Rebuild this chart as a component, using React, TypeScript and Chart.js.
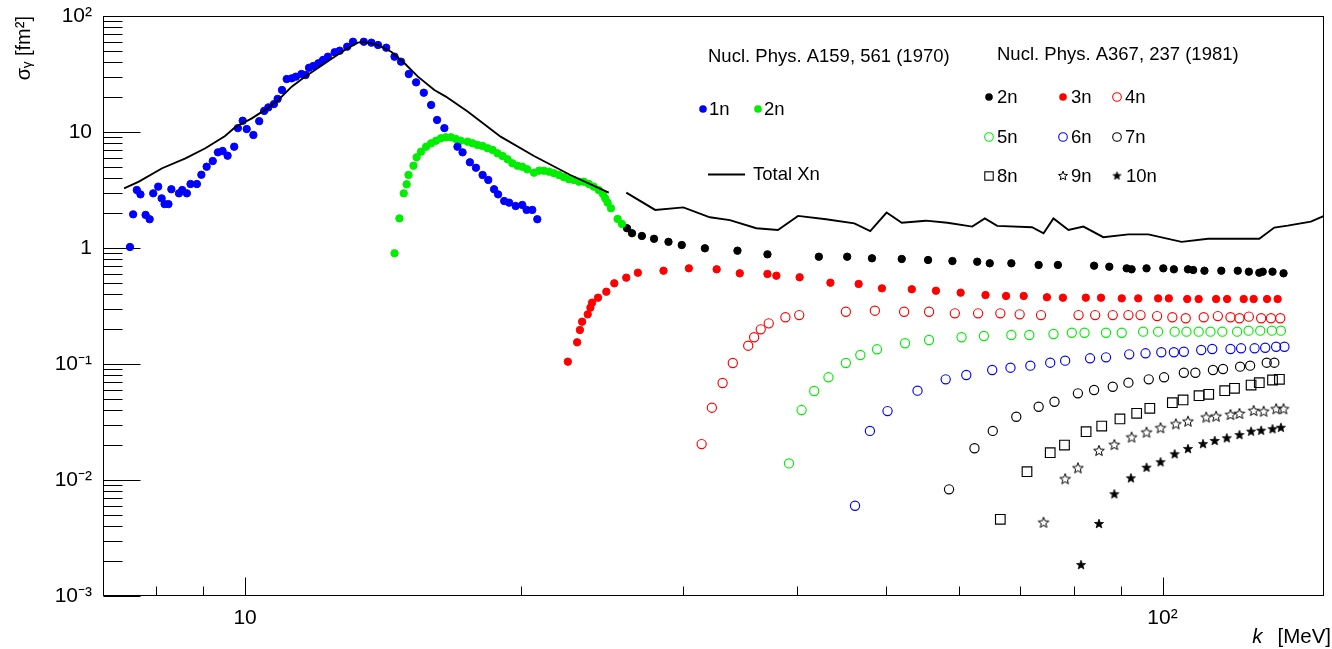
import React, { useEffect, useRef } from 'react';
import { Chart, registerables } from 'chart.js';

Chart.register(...registerables);

const FONT = "'Liberation Sans', Arial, Helvetica, sans-serif";

// ---- Nucl. Phys. A159, 561 (1970) ----
const n1Energy = [7.49, 7.55, 7.62, 7.69, 7.79, 7.87, 7.94, 8.04, 8.11, 8.17, 8.25, 8.31, 8.47, 8.54, 8.64, 8.72, 8.86, 8.96, 9.08, 9.22, 9.34, 9.45, 9.57, 9.73, 9.82, 9.94, 10.04, 10.21, 10.36, 10.49, 10.6, 10.75, 10.85, 10.97, 11.1, 11.24, 11.36, 11.52, 11.64, 11.74, 11.87, 12.02, 12.16, 12.31, 12.52, 12.68, 12.92, 13.11, 13.47, 13.73, 13.96, 14.25, 14.55, 14.79, 15.08, 15.36, 15.66, 15.95, 16.19, 16.49, 17.04, 17.26, 17.58, 17.85, 18.15, 18.41, 18.68, 18.87, 19.16, 19.4, 19.72, 20.05, 20.27, 20.56, 20.82];
const n1Sigma = [1.02, 1.95, 3.16, 2.9, 1.93, 1.77, 2.96, 3.38, 2.68, 2.39, 2.39, 3.21, 2.96, 3.16, 2.96, 3.56, 3.56, 4.28, 5.02, 5.62, 6.68, 6.86, 6.25, 7.47, 10.8, 12.5, 10.6, 9.42, 12.4, 15.2, 16.3, 17.4, 19.3, 23.0, 28.6, 29.0, 30.0, 31.6, 31.0, 35.8, 37.1, 39.1, 41.8, 44.6, 48.7, 50.2, 54.4, 60.0, 60.0, 58.9, 56.2, 53.3, 44.6, 40.4, 31.6, 26.8, 21.8, 17.1, 12.7, 10.8, 7.47, 6.68, 5.48, 4.92, 4.26, 3.86, 3.21, 2.9, 2.54, 2.46, 2.3, 2.35, 2.13, 2.13, 1.77];

const n2oldEnergy = [14.55, 14.73, 14.89, 15.0, 15.07, 15.26, 15.38, 15.55, 15.75, 15.95, 16.15, 16.35, 16.55, 16.76, 16.97, 17.18, 17.48, 17.7, 17.92, 18.15, 18.38, 18.61, 18.84, 19.08, 19.32, 19.56, 19.81, 20.05, 20.3, 20.65, 20.91, 21.17, 21.44, 21.71, 21.98, 22.26, 22.54, 22.82, 23.11, 23.4, 23.7, 23.99, 24.29, 24.55, 24.69, 24.84, 25.05, 25.47, 25.75];
const n2oldSigma = [0.9, 1.8, 2.96, 3.54, 4.26, 5.12, 6.05, 6.77, 7.47, 7.99, 8.41, 8.83, 9.0, 9.0, 8.71, 8.41, 8.25, 7.99, 7.73, 7.57, 7.24, 7.0, 6.55, 6.21, 5.82, 5.37, 5.12, 5.02, 4.77, 4.46, 4.64, 4.64, 4.55, 4.41, 4.26, 4.07, 3.91, 3.86, 3.73, 3.73, 3.56, 3.38, 3.16, 2.92, 2.68, 2.46, 2.2, 1.78, 1.61];

const totalLowEnergy = [7.38, 7.66, 8.12, 8.61, 9.05, 9.51, 9.75, 10.17, 10.51, 10.87, 11.24, 11.62, 12.22, 12.84, 13.27, 13.47, 13.96, 14.43, 14.92, 15.43, 16.08, 16.55, 17.48, 18.99, 20.65, 22.62, 24.91];
const totalLowSigma = [3.27, 3.73, 4.87, 5.93, 7.24, 9.24, 11.0, 13.1, 15.5, 18.9, 24.6, 30.0, 39.1, 50.9, 58.9, 60.0, 56.2, 49.2, 39.1, 30.0, 23.0, 20.2, 15.0, 9.11, 6.21, 4.26, 3.0];
const totalHighEnergy = [26.03, 27.99, 30.04, 32.11, 33.76, 36.08, 38.09, 40.06, 42.98, 46.14, 48.02, 50.03, 51.97, 55.2, 58.29, 62.03, 64.02, 66.04, 72.07, 74.19, 76.06, 78.97, 82.0, 86.2, 91.8, 96.5, 104.9, 112.1, 127.5, 132.4, 136.9, 145.1, 150];
const totalHighSigma = [3.0, 2.13, 2.24, 1.84, 1.74, 1.48, 1.43, 1.89, 1.77, 1.63, 1.4, 2.02, 1.65, 1.72, 1.65, 1.53, 1.8, 1.55, 1.51, 1.34, 1.8, 1.43, 1.53, 1.24, 1.31, 1.31, 1.13, 1.2, 1.2, 1.5, 1.56, 1.69, 1.89];

// ---- Nucl. Phys. A367, 237 (1981) ----
const n2Energy = [26.08, 26.41, 27.07, 27.91, 28.94, 29.92, 31.71, 34.41, 37.1, 42.21, 45.32, 48.23, 51.97, 55.52, 59.02, 62.81, 64.82, 68.43, 73.28, 76.91, 84.22, 87.5, 91.4, 92.54, 96.07, 100.2, 102.9, 106.6, 108.0, 111.1, 115.9, 120.8, 124.2, 127.5, 128.6, 131.8, 135.5];
const n2Sigma = [1.48, 1.34, 1.27, 1.2, 1.13, 1.06, 0.994, 0.948, 0.882, 0.841, 0.841, 0.815, 0.804, 0.788, 0.772, 0.762, 0.738, 0.738, 0.714, 0.714, 0.704, 0.69, 0.668, 0.655, 0.668, 0.668, 0.655, 0.655, 0.646, 0.637, 0.637, 0.637, 0.625, 0.612, 0.625, 0.625, 0.605];

const n3Energy = [22.48, 23.01, 23.17, 23.3, 23.63, 23.79, 23.89, 24.25, 24.76, 25.26, 26.03, 26.8, 28.58, 30.46, 32.66, 34.61, 37.1, 37.94, 40.22, 43.45, 46.64, 49.45, 53.3, 56.63, 60.25, 64.13, 67.53, 70.58, 74.82, 77.88, 82.49, 85.7, 90.28, 94.08, 98.9, 101.6, 106.4, 109.5, 114.4, 117.6, 122.6, 125.7, 130.0, 133.5];
const n3Sigma = [0.1047, 0.1538, 0.1965, 0.2315, 0.268, 0.306, 0.338, 0.373, 0.42, 0.496, 0.555, 0.612, 0.637, 0.668, 0.655, 0.605, 0.597, 0.577, 0.559, 0.502, 0.49, 0.449, 0.441, 0.428, 0.412, 0.393, 0.386, 0.386, 0.376, 0.373, 0.373, 0.373, 0.368, 0.368, 0.368, 0.368, 0.363, 0.363, 0.363, 0.363, 0.363, 0.363, 0.363, 0.363];

const n4Energy = [31.45, 32.27, 33.15, 34.01, 35.35, 35.88, 36.48, 37.22, 38.81, 40.18, 45.17, 48.58, 52.28, 55.66, 59.38, 62.95, 66.56, 69.87, 73.72, 81.0, 84.45, 88.26, 91.8, 94.64, 98.65, 102.5, 106.0, 110.9, 114.9, 118.6, 121.3, 124.2, 128.1, 131.3, 134.4];
const n4Sigma = [0.0204, 0.042, 0.0686, 0.102, 0.1438, 0.17, 0.199, 0.224, 0.253, 0.264, 0.282, 0.288, 0.282, 0.282, 0.2735, 0.2735, 0.2735, 0.268, 0.264, 0.264, 0.264, 0.264, 0.264, 0.264, 0.259, 0.253, 0.248, 0.253, 0.259, 0.253, 0.248, 0.256, 0.248, 0.248, 0.248];

const n5Energy = [39.16, 40.42, 41.72, 43.24, 45.17, 46.84, 48.84, 52.4, 55.66, 60.39, 63.87, 68.43, 71.58, 76.06, 79.64, 82.22, 86.78, 90.28, 95.26, 98.9, 103.1, 106.2, 109.5, 112.8, 116.2, 120.6, 124.1, 127.8, 131.6, 134.6];
const n5Sigma = [0.0139, 0.0401, 0.0585, 0.0768, 0.102, 0.1196, 0.1339, 0.1509, 0.161, 0.17, 0.1743, 0.1778, 0.1778, 0.1814, 0.186, 0.186, 0.186, 0.186, 0.19, 0.19, 0.19, 0.19, 0.19, 0.19, 0.19, 0.19, 0.1937, 0.1937, 0.1937, 0.1937];

const n6Energy = [46.22, 47.98, 50.15, 54.07, 58.03, 61.11, 65.22, 68.28, 71.77, 75.44, 78.32, 83.37, 86.78, 91.99, 95.83, 99.7, 102.9, 105.5, 110.2, 113.3, 118.6, 121.8, 126.0, 129.4, 133.0, 135.8];
const n6Sigma = [0.006, 0.0265, 0.0393, 0.0589, 0.0738, 0.0804, 0.0888, 0.0929, 0.0967, 0.1026, 0.1068, 0.112, 0.1142, 0.1212, 0.1237, 0.1262, 0.1262, 0.1276, 0.132, 0.1347, 0.1347, 0.1366, 0.1366, 0.1381, 0.1409, 0.1409];

const n7Energy = [58.52, 62.38, 65.31, 69.28, 73.28, 76.25, 80.87, 84.22, 88.26, 91.8, 96.6, 100.4, 105.5, 108.6, 113.5, 116.4, 121.5, 124.6, 129.9, 132.4];
const n7Sigma = [0.00831, 0.01877, 0.0265, 0.0351, 0.0428, 0.0473, 0.0559, 0.0597, 0.0637, 0.069, 0.0738, 0.0768, 0.0841, 0.0841, 0.0888, 0.0906, 0.0948, 0.0967, 0.1026, 0.1026];

const n8Energy = [66.56, 71.17, 75.44, 78.19, 82.55, 85.85, 89.87, 93.72, 96.87, 102.5, 105.3, 109.6, 112.3, 116.9, 119.8, 124.9, 127.5, 131.8, 134.1];
const n8Sigma = [0.00458, 0.0118, 0.0172, 0.02, 0.0261, 0.0292, 0.0336, 0.0376, 0.0415, 0.0464, 0.049, 0.0533, 0.0548, 0.0589, 0.0617, 0.0659, 0.069, 0.0728, 0.0738];

const n9Energy = [74.19, 78.32, 80.87, 85.26, 88.62, 92.54, 96.07, 99.5, 103.4, 106.6, 111.6, 114.4, 118.6, 121.3, 125.7, 128.9, 133.0, 135.5];
const n9Sigma = [0.00428, 0.01014, 0.0126, 0.01778, 0.02, 0.0232, 0.0256, 0.0279, 0.0302, 0.0318, 0.0345, 0.0351, 0.0363, 0.0371, 0.0393, 0.0388, 0.0407, 0.0407];

const n10Energy = [81.5, 85.26, 88.62, 92.38, 96.07, 99.5, 103.1, 106.6, 110.7, 114.0, 117.5, 121.3, 124.9, 128.1, 131.8, 134.6];
const n10Sigma = [0.00185, 0.00418, 0.00753, 0.01034, 0.01276, 0.01421, 0.01666, 0.0185, 0.0204, 0.0217, 0.0229, 0.0244, 0.0261, 0.0266, 0.0274, 0.0282];

// ---- axes ----
const xMin = 7;
const xMax = 150;
const yMin = 0.001;
const yMax = 100;
const xTickValues = [10, 100];
const xTickLabels = ['10', '10²'];
const xMinorTicks = [8, 9, 20, 30, 40, 50, 60, 70, 80, 90];
const yTickValues = [0.001, 0.01, 0.1, 1, 10, 100];
const yTickLabels = ['10⁻³', '10⁻²', '10⁻¹', '1', '10', '10²'];
const yMinorMantissas = [2, 3, 4, 5, 6, 7, 8, 9];
const yTitle = 'σᵧ [fm²]';
const xTitleVar = 'k';
const xTitleUnit = '[MeV]';

// ---- legend ----
const legendHeaderLeft = 'Nucl. Phys. A159, 561 (1970)';
const legendHeaderRight = 'Nucl. Phys. A367, 237 (1981)';
const legendLeftLabels = ['1n', '2n'];
const legendLineLabel = 'Total Xn';
const legendRightLabels = ['2n', '3n', '4n', '5n', '6n', '7n', '8n', '9n', '10n'];

const BLUE = '#0000ff';
const GREEN = '#00ee00';
const RED = '#ff0000';
const BLACK = '#000000';

const pts = (xs: number[], ys: number[]) => xs.map((x, i) => ({ x, y: ys[i] }));

function makeStar(outer: number, inner: number, filled: boolean): HTMLCanvasElement {
  const size = Math.ceil(outer * 2 + 4);
  const c = document.createElement('canvas');
  c.width = size;
  c.height = size;
  const g = c.getContext('2d') as CanvasRenderingContext2D;
  const cx = size / 2;
  const cy = size / 2;
  g.beginPath();
  for (let i = 0; i < 10; i++) {
    const a = -Math.PI / 2 + (i * Math.PI) / 5;
    const r = i % 2 === 0 ? outer : inner;
    const px = cx + r * Math.cos(a);
    const py = cy + r * Math.sin(a);
    if (i === 0) g.moveTo(px, py);
    else g.lineTo(px, py);
  }
  g.closePath();
  if (filled) {
    g.fillStyle = BLACK;
    g.fill();
    g.strokeStyle = BLACK;
    g.lineWidth = 0.8;
    g.stroke();
  } else {
    g.strokeStyle = BLACK;
    g.lineWidth = 1;
    g.stroke();
  }
  return c;
}

type Marker = { kind: 'dot' | 'circle' | 'square' | 'image'; color: string; img?: HTMLCanvasElement };

function drawMarker(ctx: CanvasRenderingContext2D, m: Marker, x: number, y: number) {
  ctx.save();
  if (m.kind === 'dot') {
    ctx.fillStyle = m.color;
    ctx.beginPath();
    ctx.arc(x, y, 3.8, 0, Math.PI * 2);
    ctx.fill();
  } else if (m.kind === 'circle') {
    ctx.strokeStyle = m.color;
    ctx.lineWidth = 1.1;
    ctx.beginPath();
    ctx.arc(x, y, 4.3, 0, Math.PI * 2);
    ctx.stroke();
  } else if (m.kind === 'square') {
    ctx.strokeStyle = m.color;
    ctx.lineWidth = 1.1;
    ctx.strokeRect(x - 4.2, y - 4.2, 8.4, 8.4);
  } else if (m.img) {
    ctx.drawImage(m.img, x - m.img.width / 2, y - m.img.height / 2);
  }
  ctx.restore();
}

export default function App() {
  const ref = useRef<HTMLCanvasElement>(null);

  useEffect(() => {
    const canvas = ref.current;
    if (!canvas) return;
    const openStar = makeStar(5.6, 2.4, false);
    const fullStar = makeStar(4.8, 2.0, true);
    const legendOpenStar = makeStar(4.8, 2.1, false);
    const legendFullStar = makeStar(4.2, 1.7, true);

    const filled = (label: string, xs: number[], ys: number[], color: string) => ({
      label,
      data: pts(xs, ys),
      pointStyle: 'circle',
      pointRadius: 3.7,
      pointBackgroundColor: color,
      pointBorderColor: color,
      pointBorderWidth: 1,
      showLine: false,
    });
    const open = (label: string, xs: number[], ys: number[], color: string) => ({
      label,
      data: pts(xs, ys),
      pointStyle: 'circle',
      pointRadius: 4.6,
      pointBackgroundColor: 'rgba(0,0,0,0)',
      pointBorderColor: color,
      pointBorderWidth: 1.15,
      showLine: false,
    });
    const lineDs = (label: string, xs: number[], ys: number[]) => ({
      label,
      data: pts(xs, ys),
      showLine: true,
      borderColor: BLACK,
      borderWidth: 1.9,
      pointRadius: 0,
      tension: 0,
      fill: false,
    });

    const frameAndTicks = {
      id: 'frameAndTicks',
      beforeDatasetsDraw(chart: any) {
        const { ctx, chartArea: a, scales } = chart;
        const xs = scales.x;
        const ys = scales.y;
        ctx.save();
        ctx.strokeStyle = BLACK;
        ctx.lineWidth = 1;
        ctx.beginPath();
        const L = Math.round(a.left) + 0.5;
        const B = Math.round(a.bottom) - 0.5;
        for (let d = -3; d <= 2; d++) {
          const py = Math.round(ys.getPixelForValue(Math.pow(10, d))) + 0.5;
          ctx.moveTo(L, py);
          ctx.lineTo(L + 37, py);
          if (d < 2) {
            for (const m of yMinorMantissas) {
              const pm = Math.round(ys.getPixelForValue(m * Math.pow(10, d))) + 0.5;
              ctx.moveTo(L, pm);
              ctx.lineTo(L + 19, pm);
            }
          }
        }
        for (const v of xTickValues) {
          const px = Math.round(xs.getPixelForValue(v)) + 0.5;
          ctx.moveTo(px, B);
          ctx.lineTo(px, B - 18);
        }
        for (const v of xMinorTicks) {
          const px = Math.round(xs.getPixelForValue(v)) + 0.5;
          ctx.moveTo(px, B);
          ctx.lineTo(px, B - 9);
        }
        ctx.stroke();
        ctx.strokeRect(L, Math.round(a.top) + 0.5, Math.round(a.right) - Math.round(a.left) - 1, Math.round(a.bottom) - Math.round(a.top) - 1);
        ctx.restore();
      },
    };

    const legendAndTitle = {
      id: 'legendAndTitle',
      afterDraw(chart: any) {
        const ctx: CanvasRenderingContext2D = chart.ctx;
        ctx.save();
        ctx.fillStyle = BLACK;
        ctx.textBaseline = 'middle';
        ctx.textAlign = 'left';
        ctx.font = `18.5px ${FONT}`;
        // left block
        ctx.fillText(legendHeaderLeft, 708, 57);
        drawMarker(ctx, { kind: 'dot', color: BLUE }, 703, 109);
        ctx.fillText(legendLeftLabels[0], 709, 110);
        drawMarker(ctx, { kind: 'dot', color: GREEN }, 758, 109);
        ctx.fillText(legendLeftLabels[1], 764, 110);
        ctx.strokeStyle = BLACK;
        ctx.lineWidth = 1.9;
        ctx.beginPath();
        ctx.moveTo(708, 174.5);
        ctx.lineTo(745, 174.5);
        ctx.stroke();
        ctx.fillText(legendLineLabel, 753, 175);
        // right block
        ctx.fillText(legendHeaderRight, 997, 55);
        const markers: Marker[] = [
          { kind: 'dot', color: BLACK },
          { kind: 'dot', color: RED },
          { kind: 'circle', color: RED },
          { kind: 'circle', color: GREEN },
          { kind: 'circle', color: BLUE },
          { kind: 'circle', color: BLACK },
          { kind: 'square', color: BLACK },
          { kind: 'image', color: BLACK, img: legendOpenStar },
          { kind: 'image', color: BLACK, img: legendFullStar },
        ];
        const colX = [989, 1063, 1117];
        const rowY = [97, 137, 176];
        legendRightLabels.forEach((lab, i) => {
          const cx = colX[i % 3];
          const cy = rowY[Math.floor(i / 3)];
          drawMarker(ctx, markers[i], cx, cy);
          ctx.fillText(lab, cx + (i === 8 ? 9 : 8), cy + 1);
        });
        // x axis title
        ctx.textAlign = 'right';
        ctx.font = `20.5px ${FONT}`;
        ctx.fillText(xTitleUnit, 1331, 637);
        const w = ctx.measureText(xTitleUnit).width;
        ctx.font = `italic 20.5px ${FONT}`;
        ctx.fillText(xTitleVar, 1331 - w - 15, 637);
        ctx.restore();
      },
    };

    const chart = new Chart(canvas, {
      type: 'scatter',
      data: {
        datasets: [
          lineDs('Total Xn', totalLowEnergy, totalLowSigma),
          lineDs('Total Xn (cont.)', totalHighEnergy, totalHighSigma),
          filled('1n (1970)', n1Energy, n1Sigma, BLUE),
          filled('2n (1970)', n2oldEnergy, n2oldSigma, GREEN),
          filled('2n', n2Energy, n2Sigma, BLACK),
          filled('3n', n3Energy, n3Sigma, RED),
          open('4n', n4Energy, n4Sigma, RED),
          open('5n', n5Energy, n5Sigma, GREEN),
          open('6n', n6Energy, n6Sigma, BLUE),
          open('7n', n7Energy, n7Sigma, BLACK),
          {
            label: '8n',
            data: pts(n8Energy, n8Sigma),
            pointStyle: 'rect',
            pointRadius: 6.8,
            pointBackgroundColor: 'rgba(0,0,0,0)',
            pointBorderColor: BLACK,
            pointBorderWidth: 1.15,
            showLine: false,
          },
          {
            label: '9n',
            data: pts(n9Energy, n9Sigma),
            pointStyle: openStar,
            pointRadius: 5,
            showLine: false,
          },
          {
            label: '10n',
            data: pts(n10Energy, n10Sigma),
            pointStyle: fullStar,
            pointRadius: 5,
            showLine: false,
          },
        ] as any,
      },
      options: {
        responsive: false,
        animation: false,
        devicePixelRatio: 1,
        layout: { padding: { top: 16, right: 2, bottom: 0, left: 0 } },
        plugins: {
          legend: { display: false },
          tooltip: { enabled: false },
        },
        scales: {
          x: {
            type: 'logarithmic',
            position: 'bottom',
            min: xMin,
            max: xMax,
            bounds: 'data',
            grid: { display: false, drawTicks: false },
            border: { display: false },
            afterBuildTicks: (scale: any) => {
              scale.ticks = xTickValues.map((v) => ({ value: v }));
            },
            afterFit: (scale: any) => {
              scale.height = 53;
              scale.paddingLeft = 0;
              scale.paddingRight = 0;
            },
            ticks: {
              autoSkip: false,
              maxRotation: 0,
              minRotation: 0,
              padding: 10,
              color: BLACK,
              font: { size: 21, family: FONT },
              callback: (_v: any, i: number) => xTickLabels[i],
            },
          },
          y: {
            type: 'logarithmic',
            position: 'left',
            min: yMin,
            max: yMax,
            bounds: 'data',
            grid: { display: false, drawTicks: false },
            border: { display: false },
            afterBuildTicks: (scale: any) => {
              scale.ticks = yTickValues.map((v) => ({ value: v }));
            },
            afterFit: (scale: any) => {
              scale.width = 103;
              scale.paddingTop = 0;
              scale.paddingBottom = 0;
            },
            title: {
              display: true,
              text: yTitle,
              align: 'end',
              color: BLACK,
              font: { size: 20, family: FONT },
              padding: { top: 12, bottom: 0 },
            },
            ticks: {
              autoSkip: false,
              padding: 11,
              color: BLACK,
              font: { size: 21, family: FONT },
              callback: (_v: any, i: number) => yTickLabels[i],
            },
          },
        },
      } as any,
      plugins: [frameAndTicks, legendAndTitle],
    });

    return () => chart.destroy();
  }, []);

  return (
    <div style={{ position: 'fixed', left: 0, top: 0, width: 1332, height: 649, background: '#ffffff' }}>
      <canvas ref={ref} width={1332} height={649} style={{ display: 'block', width: 1332, height: 649 }} />
    </div>
  );
}
